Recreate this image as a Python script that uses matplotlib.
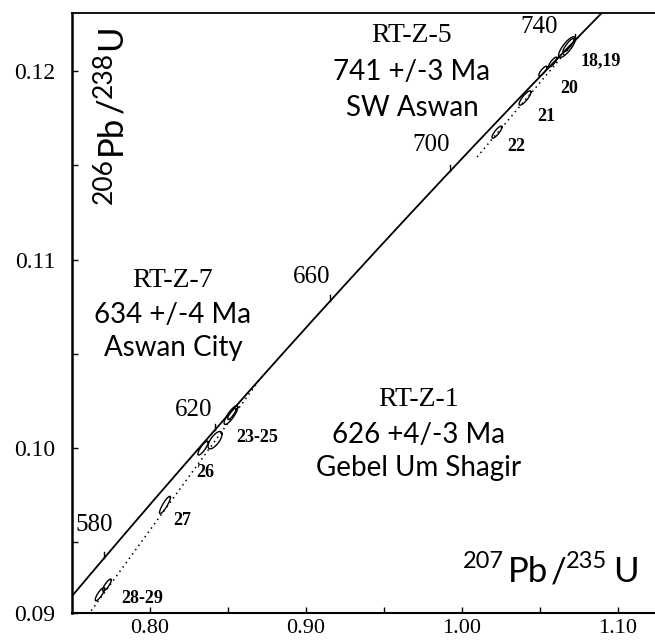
import numpy as np
import matplotlib
matplotlib.use("Agg")
import matplotlib.pyplot as plt
from matplotlib import transforms as mtransforms

# ---------------- data ----------------
L238 = 1.55125e-10   # decay constant 238U (1/yr)
L235 = 9.8485e-10    # decay constant 235U (1/yr)
conc_age_min, conc_age_max = 540, 770          # Ma, concordia curve span
age_ticks = [580, 620, 660, 700, 740]          # Ma, labelled ticks

# discordia lines (dotted)
disc5_x = [1.0096, 1.0747]
disc5_y = [0.11544, 0.12181]
disc1_x = [0.7603, 0.8705]
disc1_y = [0.09114, 0.10366]

# error ellipses: centre, half-extent in x and y, correlation
ell_cx = [1.0673, 1.0683, 1.0583, 1.0519, 1.0404, 1.0224,
          0.8519, 0.8525, 0.8417, 0.8340, 0.8096, 0.7679, 0.7724]
ell_cy = [0.12127, 0.12137, 0.12048, 0.12000, 0.11857, 0.11676,
          0.10175, 0.10182, 0.10042, 0.10000, 0.09698, 0.09225, 0.09273]
ell_sx = [0.0054, 0.0036, 0.0027, 0.0027, 0.0038, 0.0032,
          0.0044, 0.0027, 0.0045, 0.0033, 0.0035, 0.0030, 0.0028]
ell_sy = [0.00055, 0.00037, 0.00026, 0.00026, 0.00038, 0.00032,
          0.00050, 0.00030, 0.00046, 0.00037, 0.00046, 0.00035, 0.00032]
ell_rho = [0.80, 0.88, 0.82, 0.82, 0.84, 0.84,
           0.84, 0.84, 0.70, 0.84, 0.88, 0.84, 0.84]

# point-group labels
grp_labels = ["18,19", "20", "21", "22", "23-25", "26", "27", "28-29"]
grp_x = [1.0891, 1.0686, 1.0538, 1.0346, 0.8686, 0.8353, 0.8205, 0.7949]
grp_y = [0.12053, 0.11910, 0.11761, 0.11602, 0.10058, 0.09873, 0.09618, 0.09204]

# sample annotation blocks
samples = ["RT-Z-5", "RT-Z-7", "RT-Z-1"]
sample_ages = ["741 +/-3 Ma", "634 +/-4 Ma", "626 +4/-3 Ma"]
sample_places = ["SW Aswan", "Aswan City", "Gebel Um Shagir"]
sample_x = [0.9679, 0.8147, 0.9724]
sample_y = [[0.12191, 0.11995, 0.11804],
            [0.10891, 0.10705, 0.10531],
            [0.10255, 0.10069, 0.09894]]

xmaj = [0.80, 0.90, 1.00, 1.10]
xmaj_lab = ["0.80", "0.90", "1.00", "1.10"]
xmin_t = [0.85, 0.95, 1.05]
ymaj = [0.10, 0.11, 0.12]
ymaj_lab = ["0.10", "0.11", "0.12"]
ymin_t = [0.095, 0.105, 0.115]
xlim = (0.75, 1.1237)
ylim = (0.09125, 0.12308)

# ---------------- layout ----------------
W, H, DPI = 655, 643, 100
fig = plt.figure(figsize=(W / DPI, H / DPI), dpi=DPI)
fig.patch.set_facecolor("white")
ax = fig.add_axes([72 / W, 30 / H, 583 / W, 600 / H])
ax.set_xlim(*xlim)
ax.set_ylim(*ylim)

SERIF = ["Liberation Serif", "DejaVu Serif"]
SANS = ["Lato", "DejaVu Sans"]


def concordia(t_ma):
    t = np.asarray(t_ma, dtype=float) * 1e6
    return np.exp(L235 * t) - 1.0, np.exp(L238 * t) - 1.0


# concordia curve
ages = np.linspace(conc_age_min, conc_age_max, 400)
cx_, cy_ = concordia(ages)
ax.plot(cx_, cy_, color="black", lw=1.3, solid_capstyle="butt")

# age ticks and labels
px_per_y = 600 / (ylim[1] - ylim[0])
tick_len = 6 / px_per_y
lab_off = {580: (9, 33), 620: (-2, 20), 660: (0, 24), 700: (0, 26), 740: (-17, 13)}
for a in age_ticks:
    tx, ty = concordia(a)
    ax.plot([tx, tx], [ty, ty + tick_len], color="black", lw=1.0)
    dx, dy = lab_off[a]
    ax.annotate(str(a), xy=(tx, ty), xytext=(dx * 72 / DPI, dy * 72 / DPI),
                textcoords="offset points", ha="right", va="center",
                fontsize=18, family=SERIF)

# discordia lines
for xs, ys in [(disc5_x, disc5_y), (disc1_x, disc1_y)]:
    ax.plot(xs, ys, color="black", lw=1.1, linestyle=(0, (1, 2.5)))

# ellipses
tt = np.linspace(0, 2 * np.pi, 200)
for cx, cy, sx, sy, r in zip(ell_cx, ell_cy, ell_sx, ell_sy, ell_rho):
    ex = cx + sx * np.cos(tt)
    ey = cy + sy * (r * np.cos(tt) + np.sqrt(1 - r * r) * np.sin(tt))
    ax.plot(ex, ey, color="black", lw=1.0)

# group labels
for s, x, y in zip(grp_labels, grp_x, grp_y):
    ax.text(x, y, s, ha="center", va="center", fontsize=13,
            fontweight="bold", family=SERIF)

# sample annotation blocks
for name, age, place, x, ys in zip(samples, sample_ages, sample_places, sample_x, sample_y):
    ax.text(x, ys[0], name, ha="center", va="center", fontsize=20, family=SERIF)
    ax.text(x, ys[1], age, ha="center", va="center", fontsize=20, family=SANS)
    ax.text(x, ys[2], place, ha="center", va="center", fontsize=20, family=SANS)

# axes styling
for side in ["left", "bottom", "top"]:
    ax.spines[side].set_color("black")
ax.spines["left"].set_linewidth(1.8)
ax.spines["bottom"].set_linewidth(1.5)
ax.spines["top"].set_linewidth(1.3)
ax.spines["right"].set_visible(False)

ax.set_xticks(xmaj)
ax.set_xticklabels(xmaj_lab)
ax.set_xticks(xmin_t, minor=True)
ax.set_yticks([ylim[0]] + ymaj)
ax.set_yticklabels(["0.09"] + ymaj_lab)
ax.set_yticks(ymin_t, minor=True)
ax.tick_params(axis="both", which="both", direction="in", length=4.5, width=1.0,
               top=False, right=False)
ax.tick_params(axis="x", which="major", pad=4)
ax.tick_params(axis="y", which="major", pad=12)
for lab in ax.get_xticklabels():
    lab.set_fontfamily(SERIF)
    lab.set_fontsize(16)
for lab in ax.get_yticklabels():
    lab.set_fontfamily(SERIF)
    lab.set_fontsize(17)


# chained rich labels (isotope ratios)
def chain_text(x0, y0, pieces, rotation=0):
    fig.canvas.draw()
    renderer = fig.canvas.get_renderer()
    adv = 0.0
    for s, size, rise, gap in pieces:
        if rotation == 0:
            dx, dy = adv, rise
        else:
            dx, dy = -rise, adv
        tr = mtransforms.offset_copy(ax.transAxes, fig=fig, x=dx, y=dy, units="dots")
        t = ax.text(x0, y0, s, transform=tr, fontsize=size, family=SANS,
                    rotation=rotation, rotation_mode="anchor",
                    ha="left", va="baseline")
        bb = t.get_window_extent(renderer)
        adv += (bb.width if rotation == 0 else bb.height) + gap


chain_text((463 - 72) / 583, (613 - 582) / 600,
           [("207", 17, 14, 4), ("Pb", 25, 0, 3), ("/", 25, 0, -1),
            ("235", 17, 14, 6), ("U", 25, 0, 0)])
chain_text((121 - 72) / 583, (613 - 204) / 600,
           [("206", 19, 9, 3), ("Pb", 25, 0, 2), ("/", 25, 0, -1),
            ("238", 19, 9, 2), ("U", 25, 0, 0)], rotation=90)

fig.savefig("out.png", dpi=DPI, facecolor="white")
